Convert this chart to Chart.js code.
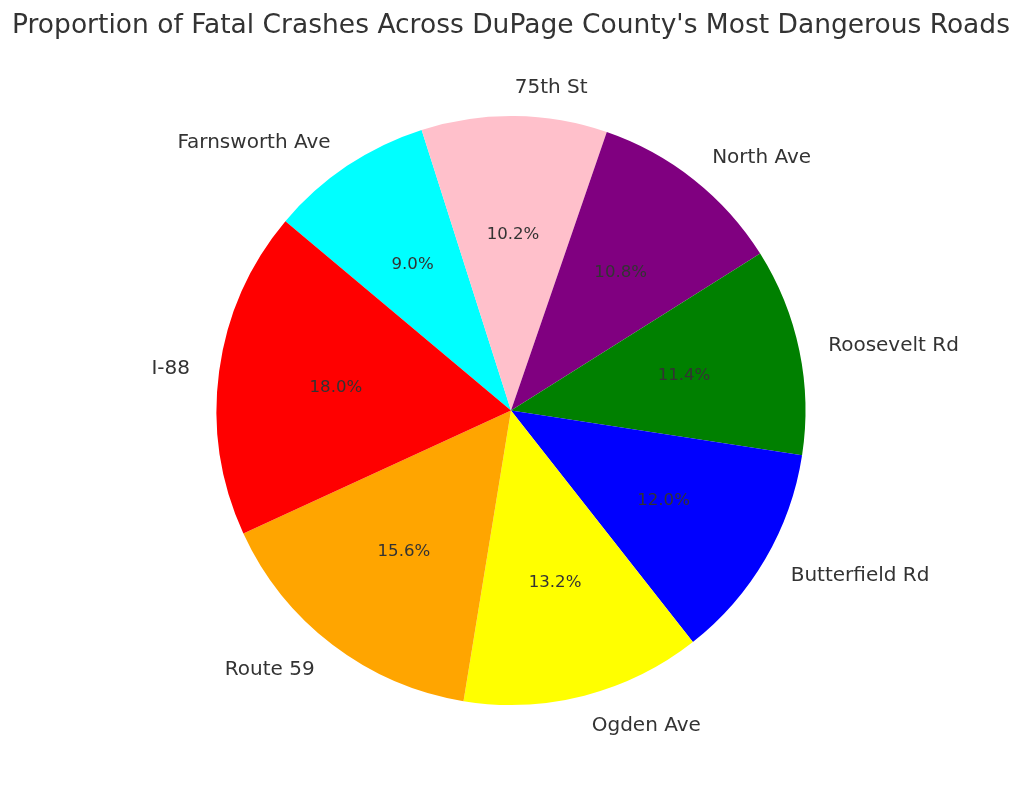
<!DOCTYPE html>
<html>
<head>
<meta charset="utf-8">
<script src="https://cdn.jsdelivr.net/npm/chart.js@4"></script>
<style>
html,body{margin:0;padding:0;background:#fff;}
#wrap{width:1024px;height:792px;}
</style>
</head>
<body>
<div id="wrap"><canvas id="c" width="1024" height="792"></canvas></div>
<script>
const roads = ["I-88", "Route 59", "Ogden Ave", "Butterfield Rd", "Roosevelt Rd", "North Ave", "75th St", "Farnsworth Ave"];
const fatalCrashes = [150, 130, 110, 100, 95, 90, 85, 75];
const sliceColors = ["red", "orange", "yellow", "blue", "green", "purple", "pink", "cyan"];
const titleText = "Proportion of Fatal Crashes Across DuPage County's Most Dangerous Roads";

// matplotlib draws counter-clockwise from 140deg; Chart.js draws clockwise, so reverse.
const cjLabels = roads.slice().reverse();
const cjValues = fatalCrashes.slice().reverse();
const cjColors = sliceColors.slice().reverse();
const total = fatalCrashes.reduce((a, b) => a + b, 0);

const FONT = "'DejaVu Sans', 'Liberation Sans', sans-serif";

const labelPlugin = {
  id: 'pieLabels',
  afterDatasetsDraw(chart) {
    const ctx = chart.ctx;
    const meta = chart.getDatasetMeta(0);
    ctx.save();
    ctx.fillStyle = '#333333';
    meta.data.forEach((arc, i) => {
      const p = arc.getProps(['x', 'y', 'startAngle', 'endAngle', 'outerRadius'], true);
      const mid = (p.startAngle + p.endAngle) / 2;
      const c = Math.cos(mid), s = Math.sin(mid);
      const pct = (cjValues[i] / total * 100).toFixed(1) + '%';
      ctx.font = '16.6px ' + FONT;
      ctx.textAlign = 'center';
      ctx.textBaseline = 'middle';
      ctx.fillText(pct, p.x + c * p.outerRadius * 0.6, p.y + s * p.outerRadius * 0.6 + 1);
      ctx.font = '20px ' + FONT;
      ctx.textAlign = c >= 0 ? 'left' : 'right';
      ctx.fillText(cjLabels[i], p.x + c * p.outerRadius * 1.1, p.y + s * p.outerRadius * 1.1 + 1.5);
    });
    ctx.restore();
  }
};

new Chart(document.getElementById('c'), {
  type: 'pie',
  data: {
    labels: cjLabels,
    datasets: [{
      data: cjValues,
      backgroundColor: cjColors,
      borderWidth: 0,
      hoverOffset: 0
    }]
  },
  options: {
    responsive: false,
    animation: false,
    devicePixelRatio: 1,
    rotation: -50,
    layout: { padding: { top: 0, bottom: 87, left: 0, right: 2 } },
    plugins: {
      legend: { display: false },
      tooltip: { enabled: false },
      title: {
        display: true,
        text: titleText,
        color: '#333333',
        font: { family: FONT, size: 26.5, weight: 'normal', lineHeight: 1.2 },
        padding: { top: 10, bottom: 74.2 }
      }
    }
  },
  plugins: [labelPlugin]
});
</script>
</body>
</html>
